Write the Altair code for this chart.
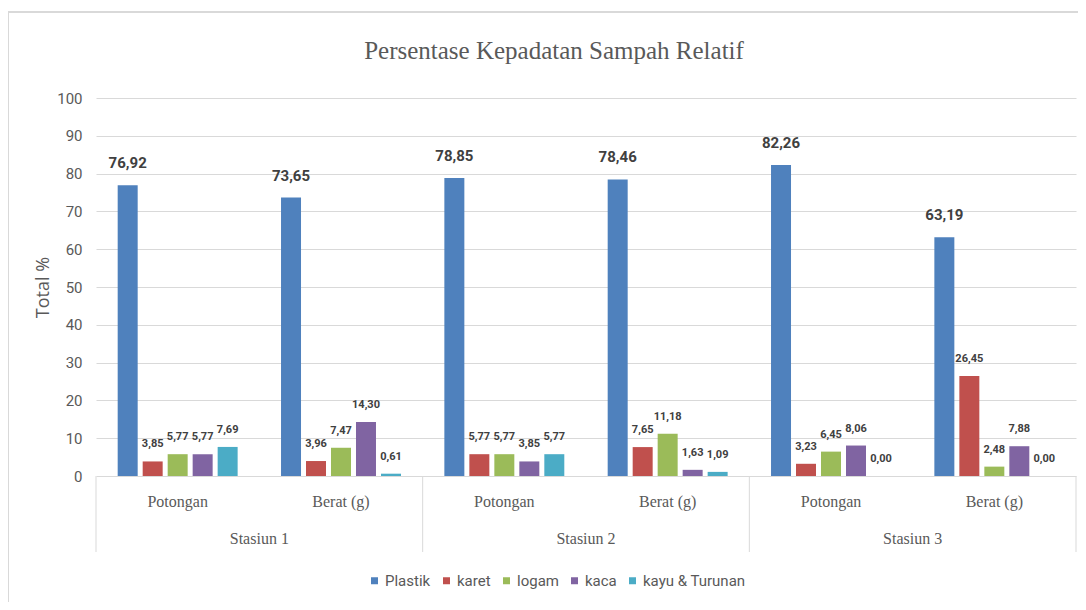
import altair as alt
import pandas as pd

series = ["Plastik", "karet", "logam", "kaca", "kayu & Turunan"]
colors = ["#4F81BD", "#C0504D", "#9BBB59", "#8064A2", "#4BACC6"]
stations = ["Stasiun 1", "Stasiun 2", "Stasiun 3"]
measures = ["Potongan", "Berat (g)"]

plastik = [76.92, 73.65, 78.85, 78.46, 82.26, 63.19]
karet = [3.85, 3.96, 5.77, 7.65, 3.23, 26.45]
logam = [5.77, 7.47, 5.77, 11.18, 6.45, 2.48]
kaca = [5.77, 14.30, 3.85, 1.63, 8.06, 7.88]
kayu = [7.69, 0.61, 5.77, 1.09, 0.00, 0.00]
y_ticks = list(range(0, 101, 10))
chart_title = "Persentase Kepadatan Sampah Relatif"

values_by_series = [plastik, karet, logam, kaca, kayu]

rows = []
for j, (name, vals) in enumerate(zip(series, values_by_series)):
    for g, v in enumerate(vals):
        rows.append({"g": g, "station": stations[g // 2], "measure": measures[g % 2],
                     "series": name, "j": j, "value": v})
df = pd.DataFrame(rows)

cat_df = pd.DataFrame([{"g": g, "measure": measures[g % 2]} for g in range(6)])
st_df = pd.DataFrame([{"s": s, "station": stations[s]} for s in range(3)])
sep_df = pd.DataFrame([{"b": b} for b in range(4)])
title_df = pd.DataFrame([{"t": chart_title}])

W, H = 980, 378
GRAY = "#595959"
SANS = "Roboto, Liberation Sans, sans-serif"
SERIF = "Liberation Serif, DejaVu Serif, serif"

xs = alt.Scale(domain=[0, 6], nice=False, zero=False)
ys = alt.Scale(domain=[0, 100], nice=False)


def y_axis():
    return alt.Axis(values=y_ticks, title="Total %", grid=True, gridColor="#d9d9d9",
                    gridWidth=1, domain=False, ticks=False, labelPadding=14,
                    labelFont=SANS, labelFontSize=15, labelColor=GRAY,
                    labelOverlap=False,
                    titleFont="Open Sans", titleFontSize=18, titleFontWeight="normal",
                    titleColor=GRAY, titlePadding=4)


base = alt.Chart(df).transform_calculate(
    pos="datum.g + 0.5 + (datum.j - 2) * 0.153",
    label="replace(format(datum.value, '.2f'), '.', ',')",
).transform_calculate(
    xa="datum.pos - 0.0612",
    xb="datum.pos + 0.0612",
)

bars = base.mark_bar().encode(
    x=alt.X("xa:Q", scale=xs, axis=None),
    x2="xb:Q",
    y=alt.Y("value:Q", scale=ys, axis=y_axis()),
    y2=alt.datum(0),
    color=alt.Color("series:N", scale=alt.Scale(domain=series, range=colors),
                    legend=alt.Legend(orient="none", legendX=271, legendY=475,
                                      direction="horizontal", title=None,
                                      symbolType="square", symbolSize=49,
                                      symbolStrokeWidth=0, labelFont=SANS,
                                      labelFontSize=15, labelColor=GRAY,
                                      labelOffset=3, columnPadding=8)),
)

big_labels = base.transform_filter("datum.j == 0").mark_text(
    font=SANS, fontSize=15, fontWeight="bold", color="#404040",
    baseline="alphabetic", dy=-17,
).encode(x=alt.X("pos:Q", scale=xs, axis=None), y=alt.Y("value:Q", scale=ys, axis=y_axis()),
         text="label:N")

small_labels = base.transform_filter("datum.j > 0").mark_text(
    font=SANS, fontSize=11, fontWeight="bold", color="#404040",
    baseline="alphabetic", dy=-14,
).encode(x=alt.X("pos:Q", scale=xs, axis=None), y=alt.Y("value:Q", scale=ys, axis=y_axis()),
         text="label:N")

cat_text = alt.Chart(cat_df).transform_calculate(cpos="datum.g + 0.5").mark_text(
    font=SERIF, fontSize=16, color=GRAY, baseline="middle",
).encode(x=alt.X("cpos:Q", scale=xs, axis=None), y=alt.value(404), text="measure:N")

st_text = alt.Chart(st_df).transform_calculate(spos="datum.s * 2 + 1").mark_text(
    font=SERIF, fontSize=16, color=GRAY, baseline="middle",
).encode(x=alt.X("spos:Q", scale=xs, axis=None), y=alt.value(441), text="station:N")

seps = alt.Chart(sep_df).transform_calculate(bpos="datum.b * 2").mark_rule(
    color="#d9d9d9", strokeWidth=1,
).encode(x=alt.X("bpos:Q", scale=xs, axis=None), y=alt.value(H), y2=alt.value(454))

frame_v = alt.Chart(sep_df).transform_filter("datum.b == 0").mark_rule(
    color="#d9d9d9", strokeWidth=2).encode(x=alt.value(-88), y=alt.value(-86), y2=alt.value(520))
frame_h = alt.Chart(sep_df).transform_filter("datum.b == 0").mark_rule(
    color="#d9d9d9", strokeWidth=2).encode(x=alt.value(-88), x2=alt.value(990), y=alt.value(-86))

title_text = alt.Chart(title_df).mark_text(
    font=SERIF, fontSize=25, color=GRAY, baseline="alphabetic", align="center",
).encode(x=alt.value(458), y=alt.value(-39), text="t:N")

chart = alt.layer(frame_v, frame_h, seps, bars, big_labels, small_labels, cat_text, st_text,
                  title_text).properties(
    width=W, height=H,
    autosize=alt.AutoSizeParams(type="none"),
    padding={"left": 88, "top": 90, "right": 2, "bottom": 126},
).configure_view(stroke=None)

chart.save("out.html", embed_options={"renderer": "svg", "actions": False})
